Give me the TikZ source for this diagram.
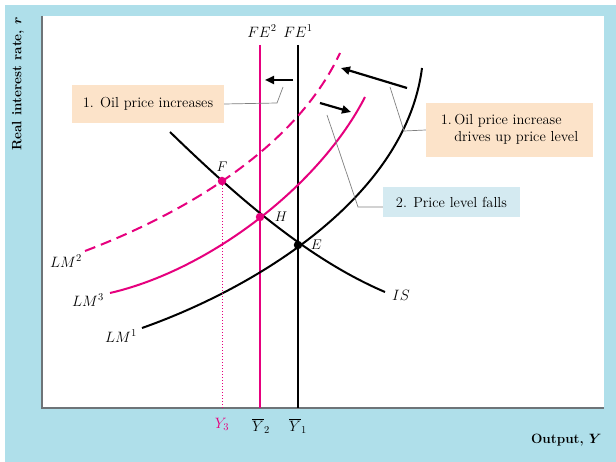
\RequirePackage{fix-cm}
\documentclass[tikz,border=0pt]{standalone}
\usepackage{xcolor}
\usepackage{amsmath}
\usepackage{fontspec}
\usepackage{tikz}
\usetikzlibrary{arrows.meta, positioning}

\definecolor{panelblue}{HTML}{AFDFEA}
\definecolor{lmpink}{HTML}{E6007E}
\definecolor{notepeach}{HTML}{FCE3C9}
\definecolor{noteblue}{HTML}{D4EAF1}
\definecolor{axisgray}{HTML}{6E7478}

\begin{document}
\begin{tikzpicture}[x=1pt, y=-1pt,
        curve/.style={line width=2pt},
        note/.style={rectangle, inner sep=0pt, font=\fontsize{14.5}{17}\selectfont},
        leader/.style={draw=gray, line width=0.7pt},
        shiftarrow/.style={-{Triangle[length=9pt, width=8pt]}, line width=2.2pt},
        dot/.style={circle, inner sep=0pt, minimum size=8.5pt},
        curvelabel/.style={font=\fontsize{15}{18}\selectfont},
        pointlabel/.style={font=\fontsize{14}{16}\selectfont}]

        \useasboundingbox (0,0) rectangle (616,462);

        % Panel and plot area
        \fill[panelblue] (5,5) rectangle (616,462);
        \fill[white] (42,16) rectangle (604,408);
        \coordinate (origin) at (42,408);
        \coordinate (xend) at (604,408);
        \coordinate (yend) at (42,16);
        \draw[axisgray, line width=1.4pt] (yend) -- (origin) -- (xend);

        % Axis titles
        \node[rotate=90, font=\fontsize{13.5}{16}\selectfont\bfseries] (rlabel) at (18,84) {Real interest rate, $\boldsymbol{r}$};
        \node[font=\fontsize{13.5}{16}\selectfont\bfseries, anchor=east] (ylabel) at (605,440) {Output, $\boldsymbol{Y}$};

        % Full-employment lines
        \coordinate (fe1top) at (298,45);
        \coordinate (fe1bot) at (298,408);
        \coordinate (fe2top) at (260,45);
        \coordinate (fe2bot) at (260,408);
        \draw[curve] (fe1top) -- (fe1bot);
        \draw[curve, lmpink] (fe2top) -- (fe2bot);
        \node[curvelabel] (fe1) at (298,31) {$FE^1$};
        \node[curvelabel] (fe2) at (262,31) {$FE^2$};

        % IS curve
        \draw[curve] (170,132) .. controls (240,200) and (310,260) .. (385,292);
        \node[curvelabel] (is) at (401,295) {$IS$};

        % LM curves
        \draw[curve] (142,328) .. controls (250,290) and (405,200) .. (422,68);
        \draw[curve, lmpink] (110,293) .. controls (210,270) and (320,185) .. (365,97);
        \draw[curve, lmpink, dash pattern=on 11pt off 6pt] (85,251) .. controls (180,215) and (295,150) .. (340,53);
        \node[curvelabel] (lm1) at (121,336) {$LM^1$};
        \node[curvelabel] (lm3) at (88,300) {$LM^3$};
        \node[curvelabel] (lm2) at (66,261) {$LM^2$};

        % Equilibrium points
        \node[dot, fill=lmpink] (F) at (222,181) {};
        \node[dot, fill=lmpink] (H) at (260,217) {};
        \node[dot, fill=black] (E) at (298,245) {};
        \node[pointlabel, above=2pt of F] (Flabel) {$F$};
        \node[pointlabel, right=7pt of H] (Hlabel) {$H$};
        \node[pointlabel, right=5pt of E] (Elabel) {$E$};

        % Output levels
        \coordinate (y3bot) at (222,408);
        \draw[lmpink, line width=0.9pt, dash pattern=on 1pt off 2pt] (F) -- (y3bot);
        \node[curvelabel, text=lmpink] (y3) at (222,424) {$Y_3$};
        \node[curvelabel] (y2) at (261,426) {$\overline{Y}_2$};
        \node[curvelabel] (y1) at (298,426) {$\overline{Y}_1$};

        % Shift arrows
        \coordinate (fefrom) at (293,80);
        \coordinate (feto) at (265,80);
        \coordinate (lmupfrom) at (407,88);
        \coordinate (lmupto) at (341,68);
        \coordinate (lmdownfrom) at (320,103);
        \coordinate (lmdownto) at (351,112);
        \draw[shiftarrow] (fefrom) -- (feto);
        \draw[shiftarrow] (lmupfrom) -- (lmupto);
        \draw[shiftarrow] (lmdownfrom) -- (lmdownto);

        % Notes
        \node[note, fill=notepeach, minimum width=152pt, minimum height=38pt] (oilnote) at (148,104) {1. Oil price increases};
        \node[note, fill=notepeach, minimum width=167pt, minimum height=54pt] (pricenote) at (509.5,130) {
            \begin{tabular}{@{}l@{\,}l@{}}
                1. & Oil price increase \\
                   & drives up price level
            \end{tabular}
        };
        \node[note, fill=noteblue, minimum width=137pt, minimum height=30pt] (fallnote) at (451.5,202) {2. Price level falls};

        % Leaders
        \coordinate (oilbend) at (277,103);
        \coordinate (oiltip) at (283,87);
        \coordinate (pricebend) at (404,131);
        \coordinate (pricetip) at (390,87);
        \coordinate (fallbend) at (358,207);
        \coordinate (falltip) at (327,115);
        \draw[leader] (oilnote.east) -- (oilbend) -- (oiltip);
        \draw[leader] (pricenote.west) -- (pricebend) -- (pricetip);
        \draw[leader] ([yshift=-5pt]fallnote.west) -- (fallbend) -- (falltip);
    \end{tikzpicture}
\end{document}
